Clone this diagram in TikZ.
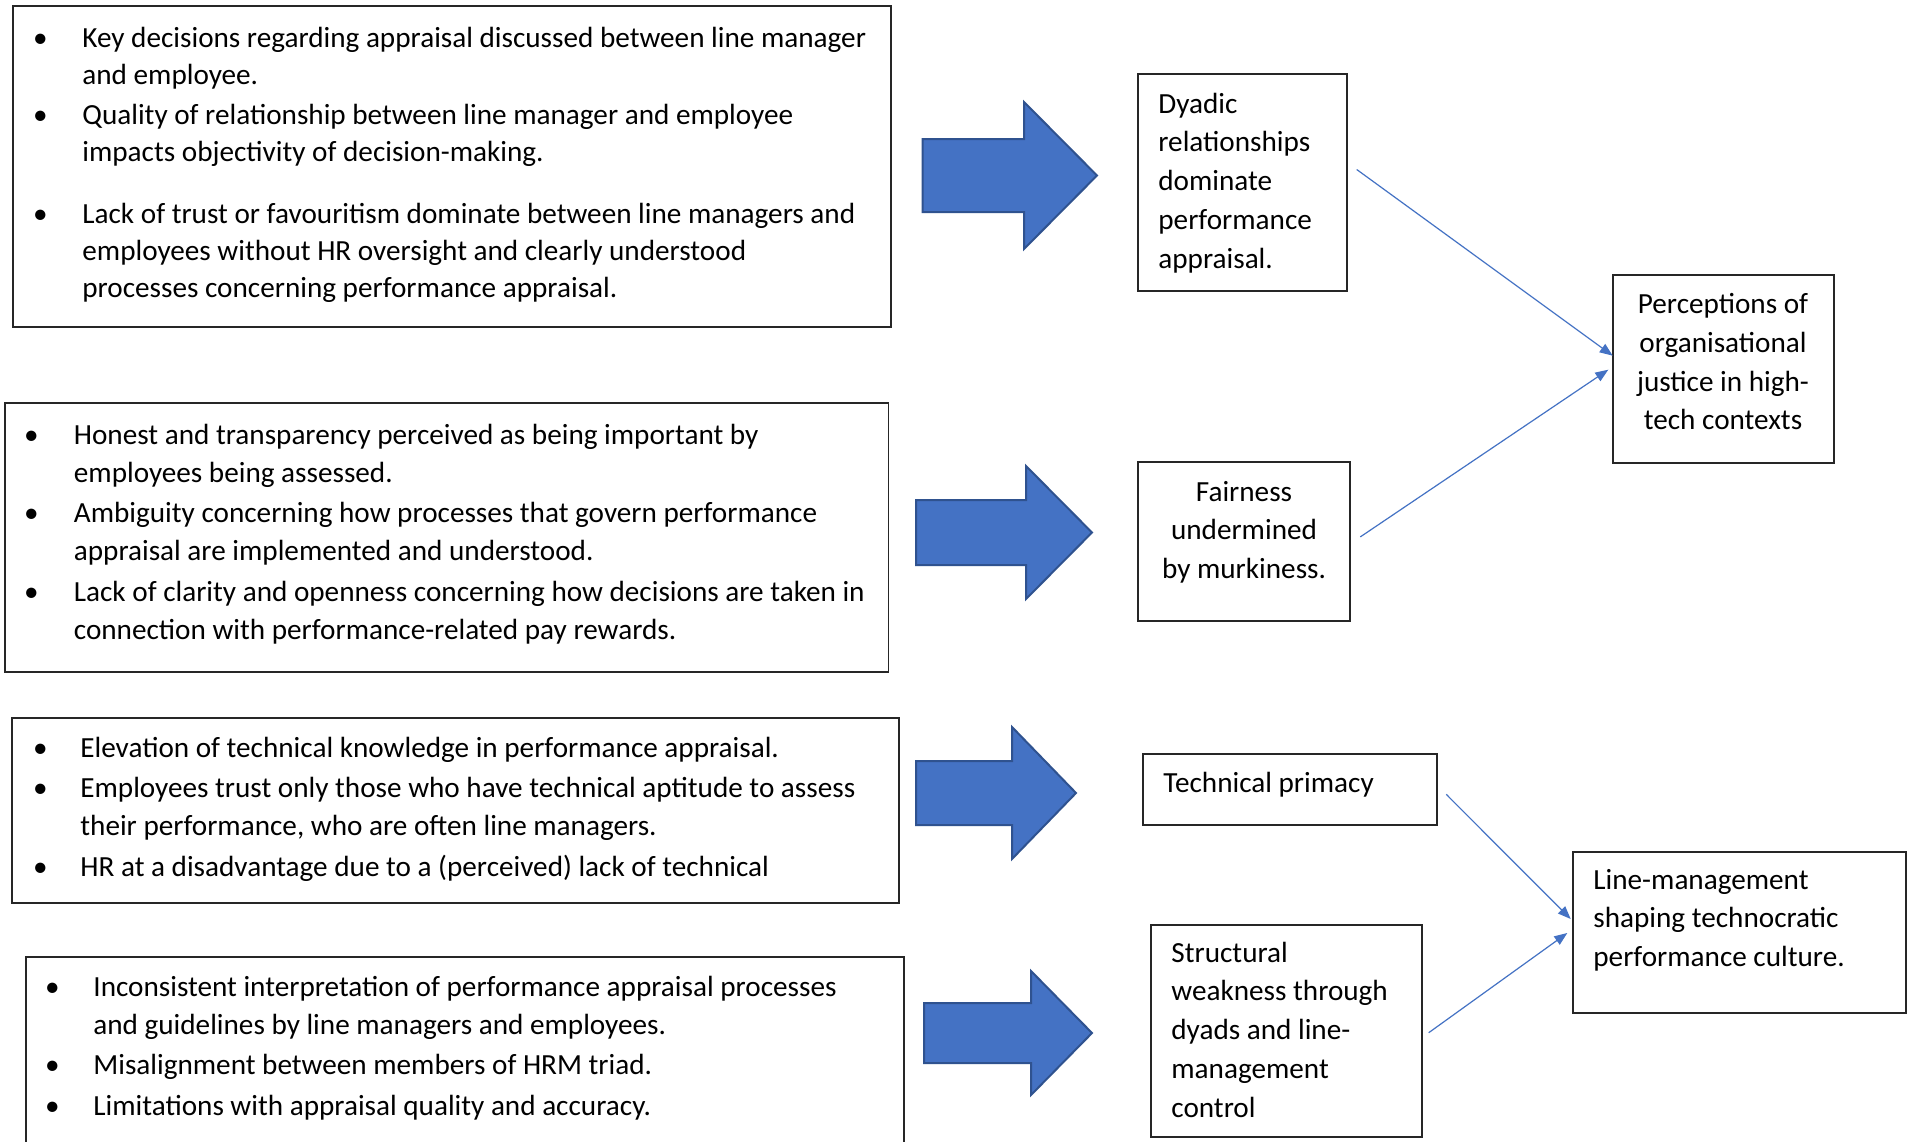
\documentclass[tikz,border=0pt]{standalone}
\usepackage{fontspec}
\setmainfont{Carlito}
\usetikzlibrary{arrows.meta,calc,fit}
\definecolor{arrfill}{HTML}{4472C4}
\definecolor{arrline}{HTML}{2F528F}
\definecolor{connc}{HTML}{4472C4}
\newcommand\bu[1]{\llap{\makebox[#1][c]{\textbullet}}}
\begin{document}
\begin{tikzpicture}[x=0.5pt,y=-0.5pt,
  box/.style={draw=black!85, line width=0.7pt, inner sep=0pt},
  txt/.style={inner sep=0pt, anchor=base west, font=\fontsize{14.6pt}{19pt}\selectfont},
  txtA/.style={inner sep=0pt, anchor=base west, font=\fontsize{14.6pt}{18.6pt}\selectfont},
  rtxt/.style={inner sep=0pt, anchor=base west, font=\fontsize{14.6pt}{19.4pt}\selectfont},
  ctxt/.style={inner sep=0pt, anchor=base, font=\fontsize{14.6pt}{19.4pt}\selectfont},
  blockarrow/.style={fill=arrfill, draw=arrline, line width=1pt, line join=miter},
  conn/.style={draw=connc, line width=0.6pt, -{Triangle[length=6.5pt,width=5pt]}}]
\useasboundingbox (0,0) rectangle (1912,1141);
\clip (0,0) rectangle (1912,1141);
\fill[white] (0,0) rectangle (1912,1141);

% left boxes
\node[box, fit={(13,6) (891,327)}] (b1) {};
\node[box, fit={(5,403) (888.5,672)}] (b2) {};
\node[box, fit={(12,718) (899,903)}] (b3) {};
\node[box, fit={(26,957) (904,1160)}] (b4) {};

\node[txtA] (t1) at (82,47.7) {\begin{tabular}[t]{@{}l@{}}
\bu{42pt}Key decisions regarding appraisal discussed between line manager\\
and employee.\\[1.3pt]
\bu{42pt}Quality of relationship between line manager and employee\\
impacts objectivity of decision-making.\\[12pt]
\bu{42pt}Lack of trust or favouritism dominate between line managers and\\
employees without HR oversight and clearly understood\\
processes concerning performance appraisal.
\end{tabular}};

\node[txt] (t2) at (73.5,444) {\begin{tabular}[t]{@{}l@{}}
\bu{42.5pt}Honest and transparency perceived as being important by\\
employees being assessed.\\[1.3pt]
\bu{42.5pt}Ambiguity concerning how processes that govern performance\\
appraisal are implemented and understood.\\[1.3pt]
\bu{42.5pt}Lack of clarity and openness concerning how decisions are taken in\\
connection with performance-related pay rewards.
\end{tabular}};

\node[txt] (t3) at (80,757) {\begin{tabular}[t]{@{}l@{}}
\bu{40pt}Elevation of technical knowledge in performance appraisal.\\[1.3pt]
\bu{40pt}Employees trust only those who have technical aptitude to assess\\
their performance, who are often line managers.\\[1.3pt]
\bu{40pt}HR at a disadvantage due to a (perceived) lack of technical
\end{tabular}};

\node[txt] (t4) at (93,996) {\begin{tabular}[t]{@{}l@{}}
\bu{41pt}Inconsistent interpretation of performance appraisal processes\\
and guidelines by line managers and employees.\\[1.3pt]
\bu{41pt}Misalignment between members of HRM triad.\\[1.3pt]
\bu{41pt}Limitations with appraisal quality and accuracy.
\end{tabular}};

% block arrows
\draw[blockarrow] (922.6,139) -- (1024,139) -- (1024,102) -- (1097,175.5) -- (1024,249) -- (1024,212) -- (922.6,212) -- cycle;
\draw[blockarrow] (916,500) -- (1026,500) -- (1026,466) -- (1092,532.5) -- (1026,599) -- (1026,565) -- (916,565) -- cycle;
\draw[blockarrow] (916,761) -- (1012,761) -- (1012,727) -- (1076,793) -- (1012,859) -- (1012,825) -- (916,825) -- cycle;
\draw[blockarrow] (924,1003) -- (1031,1003) -- (1031,971) -- (1092,1033) -- (1031,1095) -- (1031,1063) -- (924,1063) -- cycle;

% right boxes
\node[box, fit={(1138,74) (1347,291)}] (dy) {};
\node[box, fit={(1138,462) (1350,621)}] (fa) {};
\node[box, fit={(1613,275) (1834,463)}] (pj) {};
\node[box, fit={(1143,754) (1437,825)}] (tp) {};
\node[box, fit={(1151,925) (1422,1137)}] (st) {};
\node[box, fit={(1573,852) (1906,1013)}] (lm) {};

\node[rtxt] (tdy) at (1158,113) {\begin{tabular}[t]{@{}l@{}}Dyadic\\relationships\\dominate\\performance\\appraisal.\end{tabular}};
\node[ctxt] (tfa) at (1244,501) {\begin{tabular}[t]{@{}c@{}}Fairness\\undermined\\by murkiness.\end{tabular}};
\node[ctxt] (tpj) at (1723,313.5) {\begin{tabular}[t]{@{}c@{}}Perceptions of\\organisational\\justice in high-\\tech contexts\end{tabular}};
\node[rtxt] (ttp) at (1163,792) {Technical primacy};
\node[rtxt] (tst) at (1171,962) {\begin{tabular}[t]{@{}l@{}}Structural\\weakness through\\dyads and line-\\management\\control\end{tabular}};
\node[rtxt] (tlm) at (1593,889) {\begin{tabular}[t]{@{}l@{}}Line-management\\shaping technocratic\\performance culture.\end{tabular}};

% connectors
\draw[conn] ($(dy.east)+(9,-13)$) -- ($(pj.west)+(0.4,-13.3)$);
\draw[conn] ($(fa.east)+(9.6,-4.6)$) -- ($(pj.west)+(-4,0.7)$);
\draw[conn] ($(tp.east)+(8.5,4.8)$) -- ($(lm.west)+(-1.6,-13.5)$);
\draw[conn] ($(st.east)+(6,1.7)$) -- ($(lm.west)+(-5,0.5)$);
\end{tikzpicture}
\end{document}
